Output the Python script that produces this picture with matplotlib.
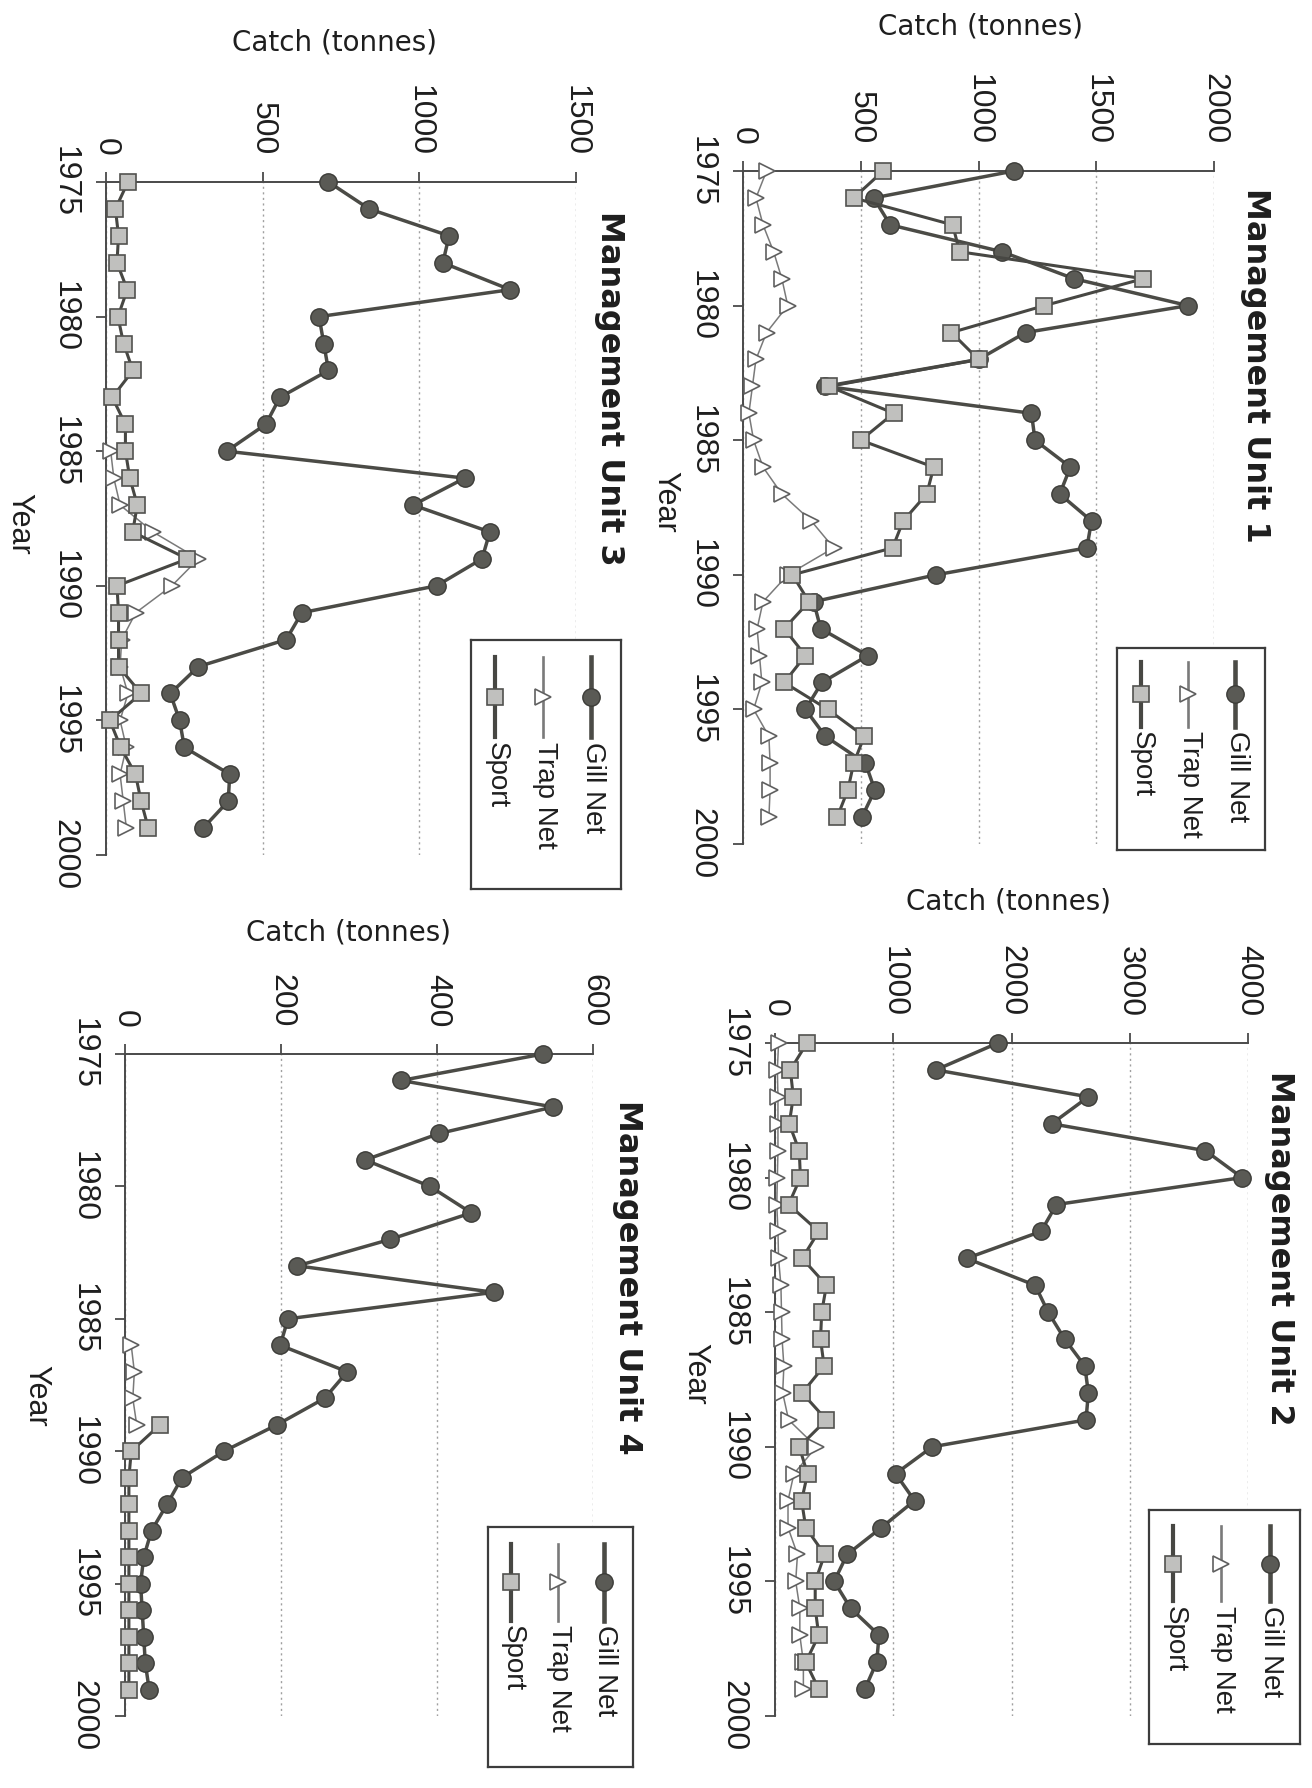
import numpy as np
import matplotlib
matplotlib.use("Agg")
import matplotlib.pyplot as plt

nan = np.nan
years = list(range(1975, 2000))
year_ticks = [1975, 1980, 1985, 1990, 1995, 2000]
series_names = ["Gill Net", "Trap Net", "Sport"]

# ---- Management Unit 1 ----
mu1_gill = [1150, 555, 625, 1100, 1405, 1890, 1200, 1000, 350, 1225, 1240, 1390, 1345,
            1480, 1460, 820, 300, 330, 530, 335, 265, 350, 520, 560, 505]
mu1_trap = [100, 55, 85, 130, 165, 190, 100, 55, 40, 25, 45, 85, 165,
            290, 385, 190, 85, 60, 70, 80, 45, 110, 115, 115, 110]
mu1_sport = [595, 470, 890, 920, 1700, 1280, 885, 1000, 365, 640, 500, 810, 780,
             680, 635, 210, 280, 175, 265, 175, 360, 515, 470, 445, 400]
mu1_ticks = [0, 500, 1000, 1500, 2000]

# ---- Management Unit 2 ----
mu2_gill = [1885, 1360, 2650, 2340, 3640, 3950, 2380, 2250, 1620, 2200, 2310, 2450, 2620,
            2650, 2630, 1330, 1020, 1180, 900, 610, 500, 640, 880, 860, 760]
mu2_trap = [30, 20, 25, 25, 25, 20, 15, 25, 30, 50, 55, 60, 75,
            65, 115, 350, 160, 110, 110, 190, 175, 210, 210, 240, 240]
mu2_sport = [270, 130, 155, 120, 205, 215, 115, 370, 230, 435, 395, 385, 415,
             230, 435, 205, 275, 225, 260, 420, 340, 340, 370, 260, 370]
mu2_ticks = [0, 1000, 2000, 3000, 4000]

# ---- Management Unit 3 ----
mu3_gill = [710, 840, 1095, 1075, 1290, 680, 695, 710, 555, 510, 385, 1145, 980,
            1225, 1200, 1055, 625, 575, 295, 205, 235, 250, 395, 390, 310]
mu3_trap = [nan, nan, nan, nan, nan, nan, nan, nan, nan, nan, 15, 25, 45,
            150, 295, 210, 95, 50, 45, 70, 45, 65, 45, 55, 65]
mu3_sport = [70, 30, 40, 35, 68, 38, 56, 86, 20, 62, 62, 76, 100,
             85, 260, 35, 40, 40, 40, 112, 12, 47, 94, 112, 135]
mu3_ticks = [0, 500, 1000, 1500]

# ---- Management Unit 4 ----
mu4_gill = [536, 354, 549, 403, 308, 391, 444, 340, 221, 473, 209, 199, 285,
            256, 195, 127, 73, 54, 34, 24, 20, 22, 24, 26, 31]
mu4_trap = [nan, nan, nan, nan, nan, nan, nan, nan, nan, nan, nan, 8, 12,
            10, 15, nan, nan, nan, nan, nan, nan, nan, nan, nan, nan]
mu4_sport = [nan, nan, nan, nan, nan, nan, nan, nan, nan, nan, nan, nan, nan,
             nan, 45, 8, 5, 5, 5, 5, 5, 5, 5, 5, 5]
mu4_ticks = [0, 200, 400, 600]

W, H = 1312, 1788
fig = plt.figure(figsize=(W / 100, H / 100), dpi=100)
fig.patch.set_facecolor("white")

def rect(x0, y0, x1, y1):
    return [x0 / W, 1 - y1 / H, (x1 - x0) / W, (y1 - y0) / H]

def fx(x):
    return x / W

def fy(y):
    return 1 - y / H

AX_C = "#4a4a4a"
TXT_C = "#1e1e1e"
TICK_FONT = "Liberation Sans"

gill_style = dict(color="#4b4b46", lw=2.5, marker="o", ms=12.5, mfc="#5a5a55",
                  mec="#3c3c38", mew=1.0)
trap_style = dict(color="#7a7a7a", lw=1.1, marker=">", ms=12, mfc="white",
                  mec="#606060", mew=1.2)
sport_style = dict(color="#474743", lw=2.2, marker="s", ms=11.5, mfc="#c0c0be",
                   mec="#52524f", mew=1.2)
styles = [gill_style, trap_style, sport_style]

def panel(ax_px, ticks, gill, trap, sport, title, title_xy, catch_xy, year_xy, leg_px):
    ax = fig.add_axes(rect(*ax_px))
    for vals, st, z in zip([gill, trap, sport], styles, [3, 4, 5]):
        ax.plot(vals, years, zorder=z, clip_on=False, **st)
    ax.set_xlim(0, ticks[-1])
    ax.set_ylim(2000, 1975)
    ax.set_xticks(ticks)
    ax.set_yticks(year_ticks)
    ax.xaxis.tick_top()
    for s in ["bottom", "right"]:
        ax.spines[s].set_visible(False)
    for s in ["top", "left"]:
        ax.spines[s].set_color(AX_C)
        ax.spines[s].set_linewidth(1.4)
    ax.tick_params(axis="x", direction="out", length=7, width=1.3, color=AX_C,
                   pad=12, labelsize=23, labelrotation=-90, labelcolor=TXT_C)
    ax.tick_params(axis="y", direction="out", length=7, width=1.3, color=AX_C,
                   pad=12, labelsize=23, labelrotation=-90, labelcolor=TXT_C)
    for lab in ax.get_xticklabels() + ax.get_yticklabels():
        lab.set_fontfamily(TICK_FONT)
    for lab in ax.get_yticklabels():
        lab.set_va("center")
    ax.grid(axis="x", linestyle=(0, (1.5, 2.5)), color="#a0a0a0", lw=1.0)
    ax.set_axisbelow(True)
    ax.set_facecolor("none")

    fig.text(fx(title_xy[0]), fy(title_xy[1]), title, rotation=-90, ha="center",
             va="center", fontsize=23, fontweight="bold", family="DejaVu Sans",
             color=TXT_C)
    fig.text(fx(catch_xy[0]), fy(catch_xy[1]), "Catch (tonnes)", ha="center",
             va="center", fontsize=20, family="DejaVu Sans", color=TXT_C)
    fig.text(fx(year_xy[0]), fy(year_xy[1]), "Year", rotation=-90, ha="center",
             va="center", fontsize=22, family=TICK_FONT, color=TXT_C)

    lax = fig.add_axes(rect(*leg_px))
    lax.set_xlim(0, 1)
    lax.set_ylim(1, 0)
    lax.set_xticks([])
    lax.set_yticks([])
    for s in lax.spines.values():
        s.set_color("#3c3c3c")
        s.set_linewidth(1.6)
    for name, st, xr in zip(series_names, styles, [0.80, 0.48, 0.16]):
        lax.plot([xr, xr], [0.07, 0.39], color=st["color"], lw=st["lw"] + 0.8)
        lax.plot([xr], [0.23], linestyle="none", marker=st["marker"], ms=st["ms"],
                 mfc=st["mfc"], mec=st["mec"], mew=st["mew"])
        lax.text(xr + 0.01, 0.41, name, rotation=-90, ha="center", va="top",
                 fontsize=20, family=TICK_FONT, color=TXT_C)
    return ax

panel((743, 171, 1214, 844), mu1_ticks, mu1_gill, mu1_trap, mu1_sport,
      "Management Unit 1", (1256, 365), (980, 27), (665, 502), (1117, 648, 1265, 850))
panel((775, 1043, 1248, 1716), mu2_ticks, mu2_gill, mu2_trap, mu2_sport,
      "Management Unit 2", (1279, 1248), (1009, 902), (695, 1374), (1149, 1510, 1300, 1744))
panel((106, 182, 576, 855), mu3_ticks, mu3_gill, mu3_trap, mu3_sport,
      "Management Unit 3", (610, 388), (334, 42), (19, 524), (471, 640, 621, 889))
panel((125, 1054, 593, 1716), mu4_ticks, mu4_gill, mu4_trap, mu4_sport,
      "Management Unit 4", (627, 1277), (348, 932), (36, 1396), (488, 1527, 633, 1767))

fig.savefig("out.png", dpi=100, facecolor="white")
